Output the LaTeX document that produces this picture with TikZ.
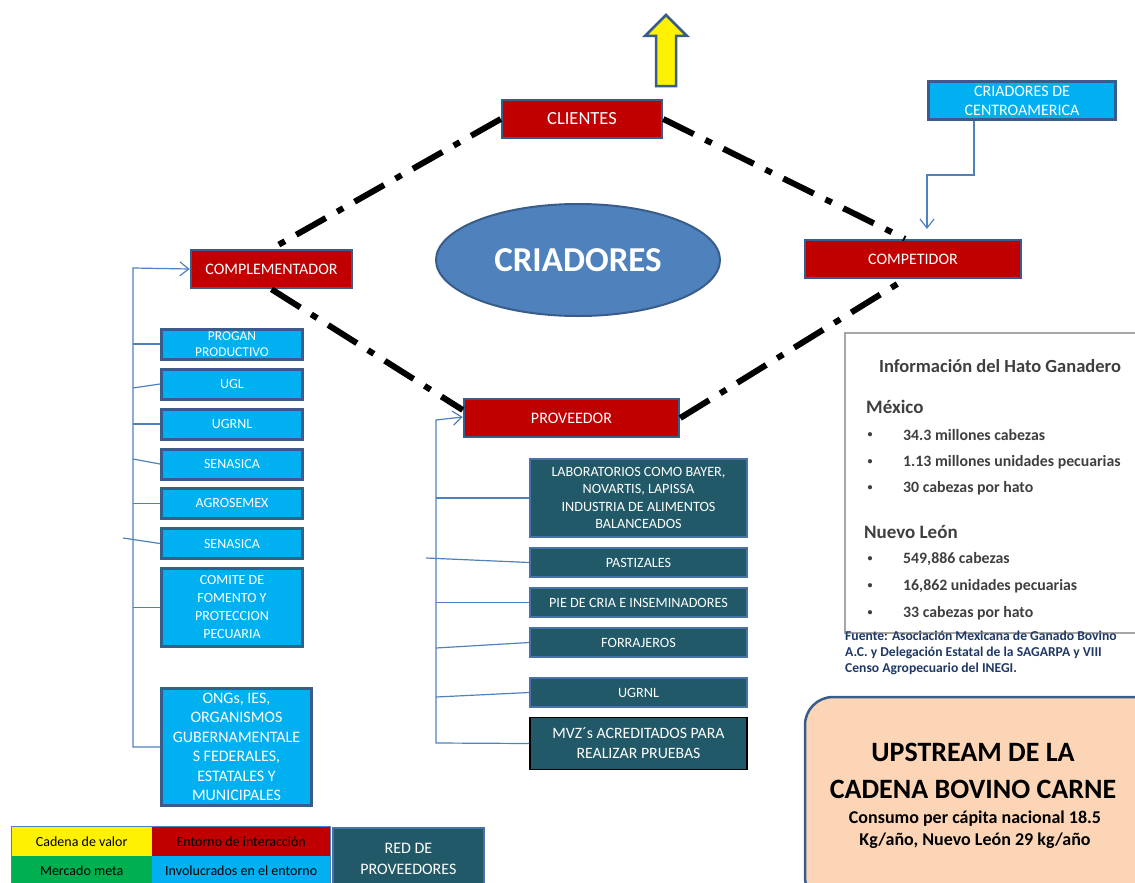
\documentclass[tikz,border=0pt]{standalone}
\usepackage{fontspec}
\setmainfont{Carlito}
\usetikzlibrary{arrows.meta,shapes.geometric,calc}
\definecolor{boxred}{HTML}{C00000}
\definecolor{cyanfill}{HTML}{00B0F0}
\definecolor{darkborder}{HTML}{385D8A}
\definecolor{tealfill}{HTML}{215968}
\definecolor{tealborder}{HTML}{4A72A8}
\definecolor{connblue}{HTML}{4F81BD}
\definecolor{ellfill}{HTML}{4F81BD}
\definecolor{peach}{HTML}{FBD5B5}
\definecolor{leggreen}{HTML}{00B050}
\definecolor{infotext}{HTML}{3F3F3F}
\definecolor{fuente}{HTML}{1F3864}
\tikzset{
  redbox/.style={draw=darkborder, line width=2.5pt, fill=boxred, text=white, inner sep=0pt, align=center, font=\fontsize{16}{19}\selectfont},
  cyanbox/.style={draw=darkborder, line width=3pt, fill=cyanfill, text=white, inner sep=0pt, align=center, minimum width=141pt, font=\fontsize{14}{18}\selectfont},
  tealbox/.style={draw=tealborder, line width=1.8pt, fill=tealfill, text=white, inner sep=0pt, align=center, minimum width=217pt, font=\fontsize{14.2}{17.5}\selectfont},
  dashdot/.style={line width=6pt, black, dash pattern=on 34pt off 13pt on 7pt off 13pt},
  conn/.style={connblue, line width=1.2pt},
  openarrow/.style={-{Straight Barb[length=9pt,width=14pt,line width=1.2pt]}},
  legcell/.style={inner sep=0pt, minimum width=141pt, minimum height=30pt, text=black, font=\fontsize{14}{16}\selectfont},
  infot/.style={anchor=west, inner sep=0pt, text=infotext, font=\bfseries\fontsize{15.8}{18}\selectfont},
  bul/.style={text=infotext, inner sep=0pt, font=\bfseries\fontsize{10}{12}\selectfont},
}
\begin{document}
\begin{tikzpicture}[x=1pt,y=-1pt]
\useasboundingbox (0,0) rectangle (1135,883);
\clip (0,0) rectangle (1135,883);

% yellow arrow
\draw[fill=yellow, draw=darkborder, line width=2.5pt, line join=miter]
  (656,86) -- (656,36) -- (645,36) -- (666,15) -- (687,36) -- (676,36) -- (676,86) -- cycle;

% main nodes
\node[redbox, minimum width=160pt, minimum height=38pt, font=\fontsize{18.5}{22}\selectfont] (clientes) at (582,119) {CLIENTES};
\node[redbox, minimum width=161pt, minimum height=38pt] (compl) at (271.5,269) {COMPLEMENTADOR};
\node[redbox, minimum width=216pt, minimum height=38pt] (compet) at (913,259) {COMPETIDOR};
\node[redbox, minimum width=215pt, minimum height=38pt] (prov) at (571.5,418) {PROVEEDOR};
\node[ellipse, draw=darkborder, line width=2pt, fill=ellfill, text=white, minimum width=284pt, minimum height=112pt, inner sep=0pt, font=\bfseries\fontsize{35}{40}\selectfont] (criadores) at (578,260) {CRIADORES};
\node[cyanbox, minimum width=187pt, minimum height=38pt, font=\fontsize{16}{19}\selectfont] (centro) at (1022,100.5) {CRIADORES DE\\CENTROAMERICA};

% dash-dot connectors
\draw[dashdot] (clientes.west) -- (compl.north);
\draw[dashdot] (clientes.east) -- ([xshift=-8pt]compet.north);
\draw[dashdot] (compl.south) -- ([yshift=8pt]prov.west);
\draw[dashdot] (prov.east) -- ([xshift=-8pt]compet.south);

% centroamerica connector
\draw[conn, openarrow] ([xshift=47pt]centro.south west) -- ++(0,54) -- ++(-47,0) -- ++(0,54);

% left column
\node[cyanbox, minimum height=30pt, font=\fontsize{13.5}{16}\selectfont] (progan) at (232,344) {PROGAN\\PRODUCTIVO};
\node[cyanbox, minimum height=30pt] (ugl) at (232,384) {UGL};
\node[cyanbox, minimum height=30pt] (ugrnl) at (232,424) {UGRNL};
\node[cyanbox, minimum height=30pt] (sena1) at (232,464) {SENASICA};
\node[cyanbox, minimum height=30pt] (agro) at (232,503.5) {AGROSEMEX};
\node[cyanbox, minimum height=30pt] (sena2) at (232,543.5) {SENASICA};
\node[cyanbox, minimum height=78pt, font=\fontsize{14}{18}\selectfont] (comite) at (232,607.5) {COMITE DE\\FOMENTO Y\\PROTECCION\\PECUARIA};
\node[cyanbox, minimum width=150pt, minimum height=117pt, font=\fontsize{16}{19.5}\selectfont] (ongs) at (236.5,747) {ONGs, IES,\\ORGANISMOS\\GUBERNAMENTALE\\S FEDERALES,\\ESTATALES Y\\MUNICIPALES};

\coordinate (lt) at (133,268);
\coordinate (lb) at (133,747);
\draw[conn, openarrow] (ongs.west) -- (lb) -- (lt) -- (compl.west);
\draw[conn] (lt |- progan.west) -- (progan.west);
\draw[conn] (133,388) -- (ugl.west);
\draw[conn] (lt |- ugrnl.west) -- (ugrnl.west);
\draw[conn] (133,459) -- (sena1.west);
\draw[conn] (lt |- agro.west) -- (agro.west);
\coordinate (loose1) at (123,538);
\draw[conn] (loose1) -- (sena2.west);
\draw[conn] (lt |- comite.west) -- (comite.west);

% right column (proveedores)
\node[tealbox, minimum height=78pt] (lab) at (638.5,498) {LABORATORIOS COMO BAYER,\\NOVARTIS, LAPISSA\\INDUSTRIA DE ALIMENTOS\\BALANCEADOS};
\node[tealbox, minimum height=29pt] (past) at (638.5,562.5) {PASTIZALES};
\node[tealbox, minimum height=29pt] (pie) at (638.5,602.5) {PIE DE CRIA E INSEMINADORES};
\node[tealbox, minimum height=29pt] (forr) at (638.5,642.5) {FORRAJEROS};
\node[tealbox, minimum height=29pt] (ugrnl2) at (638.5,692.5) {UGRNL};
\node[tealbox, draw=black, line width=1.2pt, minimum height=52pt, font=\fontsize{15.8}{20}\selectfont] (mvz) at (638.5,743.5) {MVZ´s ACREDITADOS PARA\\REALIZAR PRUEBAS};

\coordinate (rt) at (436,420);
\coordinate (rb) at (436,743);
\draw[conn, openarrow] (mvz.west) -- (rb) -- (rt) -- ([yshift=1pt]prov.west);
\draw[conn] (rt |- lab.west) -- (lab.west);
\coordinate (loose2) at (426,558);
\draw[conn] (loose2) -- (past.west);
\draw[conn] (rt |- pie.west) -- (pie.west);
\draw[conn] (436,648) -- (forr.west);
\draw[conn] (436,697) -- (ugrnl2.west);

% info box
\draw[gray!70, line width=1.5pt] (1145,333) -- (845,333) -- (845,633) -- (1145,633);
\node[text=infotext, inner sep=0pt, font=\bfseries\fontsize{18.5}{21}\selectfont] (infotitle) at (1000,366) {Información del Hato Ganadero};
\node[infot, font=\bfseries\fontsize{19}{21}\selectfont] (mex) at (866,407) {México};
\node[bul] (b1) at (870,435) {•};
\node[infot] (t1) at (903,435) {34.3 millones cabezas};
\node[bul] (b2) at (870,462) {•};
\node[infot] (t2) at (903,462) {1.13 millones unidades pecuarias};
\node[bul] (b3) at (870,488) {•};
\node[infot] (t3) at (903,488) {30 cabezas por hato};
\node[infot, font=\bfseries\fontsize{19}{21}\selectfont] (nl) at (864,532) {Nuevo León};
\node[bul] (b4) at (870,559) {•};
\node[infot] (t4) at (903,559) {549,886 cabezas};
\node[bul] (b5) at (870,586) {•};
\node[infot] (t5) at (903,586) {16,862 unidades pecuarias};
\node[bul] (b6) at (870,613) {•};
\node[infot] (t6) at (903,613) {33 cabezas por hato};
\node[anchor=north west, inner sep=0pt, text=fuente, align=left, font=\bfseries\fontsize{13.6}{16}\selectfont] (fuente) at (845,631) {Fuente: Asociación Mexicana de Ganado Bovino\\A.C. y Delegación Estatal de la SAGARPA y VIII\\Censo Agropecuario del INEGI.};

% upstream box
\draw[fill=peach, draw=darkborder, line width=2.5pt, rounded corners=28pt] (805,697) rectangle (1165,905);
\node[align=center, text=black, inner sep=0pt, font=\bfseries\fontsize{28}{37}\selectfont] (up1) at (973,771) {UPSTREAM DE LA\\CADENA BOVINO CARNE};
\node[align=center, text=black, inner sep=0pt, font=\bfseries\fontsize{18}{22}\selectfont] (up2) at (975,830) {Consumo per cápita nacional 18.5\\Kg/año, Nuevo León 29 kg/año};

% legend
\node[legcell, fill=yellow, anchor=north west] (l1) at (11,826) {Cadena de valor};
\node[legcell, fill=boxred, minimum width=178pt, anchor=north west] (l2) at (152,826) {Entorno de interacción};
\node[legcell, fill=leggreen, anchor=north west, minimum height=28pt] (l3) at (11,856) {Mercado meta};
\node[legcell, fill=cyanfill, minimum width=178pt, anchor=north west, minimum height=28pt] (l4) at (152,856) {Involucrados en el entorno};
\draw[connblue, line width=0.8pt] (11,826) rectangle (330,885);
\node[tealbox, minimum width=151pt, minimum height=62pt, anchor=north west, font=\fontsize{16}{21}\selectfont] (redprov) at (332,827) {RED DE\\PROVEEDORES};
\end{tikzpicture}
\end{document}
